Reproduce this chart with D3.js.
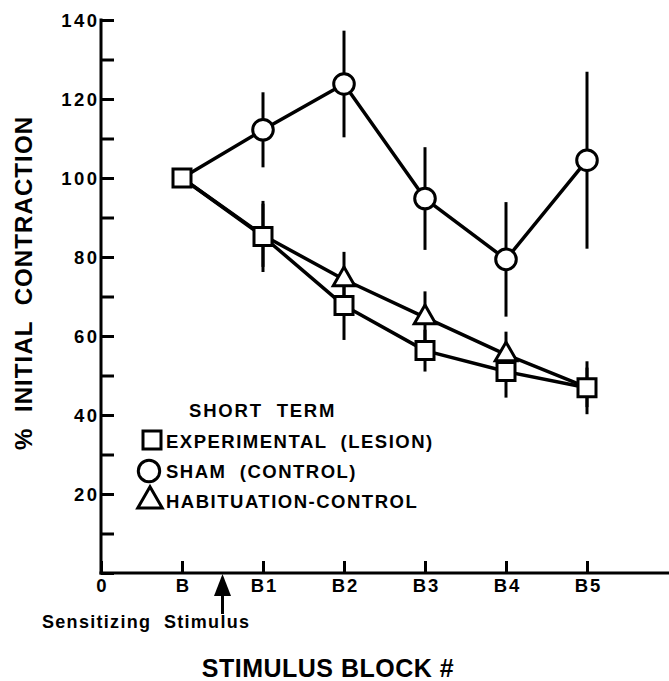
<!DOCTYPE html>
<html><head><meta charset="utf-8">
<script src="https://cdn.jsdelivr.net/npm/d3@7"></script>
<style>
body{margin:0;background:#fff}
svg{display:block}
text{font-family:"Liberation Sans",Arial,Helvetica,sans-serif;font-weight:bold;fill:#000}
</style>
</head><body>
<svg id="c" width="669" height="681"></svg>
<script>
// ---- data ----
const blocks = ["0", "B", "B1", "B2", "B3", "B4", "B5"];
const seriesBlocks = ["B", "B1", "B2", "B3", "B4", "B5"];
const experimental = [100, 85.2, 67.7, 56.3, 51.0, 46.9];
const experimentalErr = [0, 9.0, 8.7, 5.3, 6.6, 6.7];
const sham = [100, 112.2, 123.8, 94.8, 79.4, 104.5];
const shamErr = [0, 9.5, 13.5, 13.0, 14.5, 22.4];
const habituation = [100, 85.5, 74.3, 64.7, 55.3, 47.0];
const habituationErr = [0, 8.0, 7.0, 6.6, 5.8, 5.0];
const yTicks = [0, 10, 20, 30, 40, 50, 60, 70, 80, 90, 100, 110, 120, 130, 140];
const yLabels = [20, 40, 60, 80, 100, 120, 140];
const legendTitle = "SHORT  TERM";
const legendNames = ["EXPERIMENTAL  (LESION)", "SHAM  (CONTROL)", "HABITUATION-CONTROL"];
const stimulusAt = 1.5;

// ---- scales ----
const svg = d3.select("#c");
const W = 669;
const x = d3.scaleLinear().domain([0, 7]).range([101, 668]);
const y = d3.scaleLinear().domain([0, 140]).range([573, 20]);
const bx = name => x(blocks.indexOf(name));
const FF = '"Liberation Sans",Arial,sans-serif';

// ---- axes ----
const yAxis = d3.axisLeft(y).tickValues(yTicks).tickSizeInner(-13).tickSizeOuter(0)
  .tickPadding(4).tickFormat(d => yLabels.includes(d) ? d : "");
const gy = svg.append("g").attr("transform", `translate(${x(0)},0)`).call(yAxis);
gy.select(".domain").attr("stroke", "#000").attr("stroke-width", 3).attr("d", `M0,${y(0)+1.5}V${y(140)-1.5}`);
gy.selectAll(".tick line").attr("stroke", "#000").attr("stroke-width", 3);
gy.selectAll(".tick text").attr("font-size", 18.5).attr("letter-spacing", "2.5px").attr("dx", 2.5).attr("dy", "0.36em")
  .style("font-family", FF).style("font-weight", "bold");

const xAxis = d3.axisBottom(x).tickValues(d3.range(blocks.length)).tickSizeInner(-12).tickSizeOuter(0)
  .tickPadding(6).tickFormat(i => blocks[i]);
const gx = svg.append("g").attr("transform", `translate(0,${y(0)})`).call(xAxis);
gx.select(".domain").attr("stroke", "#000").attr("stroke-width", 3).attr("d", `M${x(0)-1.5},0H${W}`);
gx.selectAll(".tick text").attr("font-size", 18.5).attr("letter-spacing", "2px").attr("dy", "0.71em").attr("dx", 1)
  .style("font-family", FF).style("font-weight", "bold");
gx.selectAll(".tick line").attr("stroke", "#000").attr("stroke-width", 3);

// ---- axis titles ----
svg.append("text").attr("transform", `translate(32,283) rotate(-90)`).attr("text-anchor", "middle")
  .attr("font-size", 24).attr("letter-spacing", "1.1px").style("white-space", "pre").text("%  INITIAL  CONTRACTION");
svg.append("text").attr("x", 328).attr("y", 677).attr("text-anchor", "middle")
  .attr("font-size", 25).attr("letter-spacing", "0.5px").text("STIMULUS BLOCK #");

// ---- stimulus arrow ----
const ax = x(stimulusAt);
svg.append("line").attr("x1", ax).attr("x2", ax).attr("y1", y(0) + 18).attr("y2", y(0) + 41)
  .attr("stroke", "#000").attr("stroke-width", 3);
svg.append("path").attr("d", `M${ax},${y(0)+1}L${ax+8.5},${y(0)+23}L${ax-8.5},${y(0)+23}Z`).attr("fill", "#000");
svg.append("text").attr("x", 42).attr("y", 628).attr("font-size", 18).attr("letter-spacing", "1.3px")
  .style("white-space", "pre").text("Sensitizing  Stimulus");

// ---- series ----
const series = [
  {vals: sham, err: shamErr, sym: d3.symbolCircle, size: 333, from: 1},
  {vals: habituation, err: habituationErr, sym: d3.symbolTriangle, size: 200, from: 1},
  {vals: experimental, err: experimentalErr, sym: d3.symbolSquare, size: 324, from: 0}
];
const line = d3.line().x((d, i) => bx(seriesBlocks[i])).y(d => y(d));
series.forEach(s => {
  svg.append("path").attr("d", line(s.vals)).attr("fill", "none").attr("stroke", "#000")
    .attr("stroke-width", 3.5).attr("stroke-linejoin", "round");
});
series.forEach(s => {
  s.vals.forEach((v, i) => {
    if (!s.err[i]) return;
    svg.append("line").attr("x1", bx(seriesBlocks[i])).attr("x2", bx(seriesBlocks[i]))
      .attr("y1", y(v + s.err[i])).attr("y2", y(v - s.err[i]))
      .attr("stroke", "#000").attr("stroke-width", 3);
  });
});
series.forEach(s => {
  s.vals.forEach((v, i) => {
    if (i < s.from) return;
    // markers lying under an experimental square are hidden by it in the original
    if (s.vals !== experimental && Math.abs(v - experimental[i]) < 1) return;
    svg.append("path").attr("d", d3.symbol(s.sym, s.size)())
      .attr("transform", `translate(${bx(seriesBlocks[i])},${y(v)})`)
      .attr("fill", "#fff").attr("stroke", "#000").attr("stroke-width", 3);
  });
});

// ---- legend ----
svg.append("text").attr("x", 189).attr("y", 417).attr("font-size", 18.5).attr("letter-spacing", "1.8px")
  .style("white-space", "pre").text(legendTitle);
const legSyms = [[d3.symbolSquare, 324, 152, 440], [d3.symbolCircle, 360, 149, 471], [d3.symbolTriangle, 260, 150, 501]];
legendNames.forEach((n, i) => {
  const [sym, size, lx, ly] = legSyms[i];
  svg.append("path").attr("d", d3.symbol(sym, size)()).attr("transform", `translate(${lx},${ly})`)
    .attr("fill", "#fff").attr("stroke", "#000").attr("stroke-width", 3);
  svg.append("text").attr("x", 166).attr("y", 448 + i * 30).attr("font-size", 18.5).attr("letter-spacing", "1.5px")
    .style("white-space", "pre").text(n);
});
</script>
</body></html>
